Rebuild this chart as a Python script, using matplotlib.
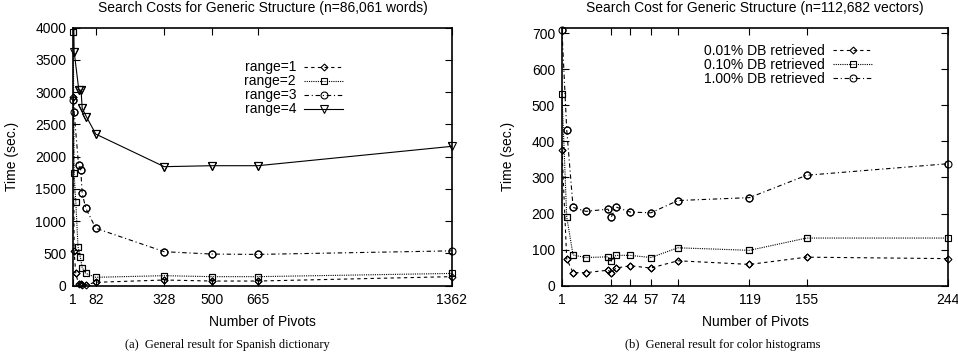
import numpy as np
import matplotlib
matplotlib.use("Agg")
import matplotlib.pyplot as plt

plt.rcParams["font.family"] = ["Liberation Sans", "DejaVu Sans"]

# (a) Spanish dictionary
a_title = "Search Costs for Generic Structure (n=86,061 words)"
a_xticks = [1, 82, 328, 500, 665, 1362]
r1_x = [1, 4, 10, 20, 28, 33, 48, 82, 328, 500, 665, 1362]
r1_y = [2930, 530, 190, 30, 20, 15, 15, 52, 88, 72, 72, 140]
r2_x = [1, 4, 10, 18, 26, 33, 46, 82, 328, 500, 665, 1362]
r2_y = [3940, 1740, 1300, 605, 450, 280, 190, 130, 155, 140, 140, 190]
r3_x = [1, 4, 20, 28, 33, 46, 82, 328, 500, 665, 1362]
r3_y = [2880, 2690, 1870, 1790, 1430, 1200, 890, 527, 490, 485, 540]
r4_x = [1, 4, 21, 29, 33, 48, 82, 328, 500, 665, 1362]
r4_y = [4600, 3630, 3030, 3030, 2750, 2620, 2350, 1845, 1860, 1860, 2160]

# (b) color histograms
b_title = "Search Cost for Generic Structure (n=112,682 vectors)"
b_x = [1, 4, 8, 16, 30, 32, 35, 44, 57, 74, 119, 155, 244]
b_xticks = [1, 32, 44, 57, 74, 119, 155, 244]
p001 = [377, 74, 36, 36, 43, 36, 49, 55, 49, 69, 59, 79, 75]
p010 = [532, 190, 85, 78, 80, 68, 84, 84, 78, 105, 98, 132, 132]
p100 = [708, 432, 217, 206, 212, 190, 218, 204, 202, 236, 244, 306, 338]

DASH = (0, (3, 3))
DOT = (0, (1, 1))
DASHDOT = (0, (4, 2.5, 1, 2.5))


def draw(ax, x, y, ls, marker, ms, label, ymax):
    x = np.asarray(x)
    y = np.asarray(y)
    ax.plot(x, y, color="black", lw=0.8, linestyle=ls, marker=marker, ms=ms,
            mfc="none", mec="black", mew=0.8, label=label)
    # markers sitting on the frame are drawn whole, like gnuplot does
    keep = y <= ymax
    ax.plot(x[keep], y[keep], linestyle="none", marker=marker, ms=ms,
            mfc="none", mec="black", mew=0.8, clip_on=False)


def style(ax, title, xlim, ylim, xticks, yticks):
    ax.set_xlim(*xlim)
    ax.set_ylim(*ylim)
    ax.set_xticks(xticks)
    ax.set_yticks(yticks)
    ax.tick_params(direction="in", top=True, right=True, length=5, width=0.8,
                   labelsize=10, pad=5)
    for s in ax.spines.values():
        s.set_linewidth(1.2)
    ax.set_title(title, fontsize=10, pad=11)
    ax.set_xlabel("Number of Pivots", fontsize=10, labelpad=6)
    ax.set_ylabel("Time (sec.)", fontsize=10, labelpad=12)


fig = plt.figure(figsize=(9.58, 3.52), dpi=100)

ax1 = fig.add_axes([0.0765, 0.1884, 0.395, 0.733])
draw(ax1, r1_x, r1_y, DASH, "D", 3.5, "range=1", 4000)
draw(ax1, r2_x, r2_y, DOT, "s", 5, "range=2", 4000)
draw(ax1, r3_x, r3_y, DASHDOT, "o", 5, "range=3", 4000)
draw(ax1, r4_x, r4_y, "-", "v", 5.5, "range=4", 4000)
style(ax1, a_title, (1, 1362), (0, 4000), a_xticks, np.arange(0, 4001, 500))
ax1.legend(loc="upper left", bbox_to_anchor=(0.434, 0.90), frameon=False,
           markerfirst=False, fontsize=10, handlelength=2.8, handletextpad=0.6,
           labelspacing=0.0, borderpad=0)

ax2 = fig.add_axes([0.5866, 0.1884, 0.403, 0.733])
draw(ax2, b_x, p001, DASH, "D", 3.5, "0.01% DB retrieved", 715)
draw(ax2, b_x, p010, DOT, "s", 5, "0.10% DB retrieved", 715)
draw(ax2, b_x, p100, DASHDOT, "o", 5, "1.00% DB retrieved", 715)
style(ax2, b_title, (1, 244), (0, 715), b_xticks, np.arange(0, 701, 100))
ax2.legend(loc="upper left", bbox_to_anchor=(0.35, 0.965), frameon=False,
           markerfirst=False, fontsize=10, handlelength=2.8, handletextpad=0.6,
           labelspacing=0.0, borderpad=0)

fig.text(0.237, 0.002, "(a)  General result for Spanish dictionary", ha="center",
         va="bottom", fontsize=9, family=["Liberation Serif", "DejaVu Serif"])
fig.text(0.754, 0.002, "(b)  General result for color histograms", ha="center",
         va="bottom", fontsize=9, family=["Liberation Serif", "DejaVu Serif"])

fig.savefig("out.png", dpi=100)
